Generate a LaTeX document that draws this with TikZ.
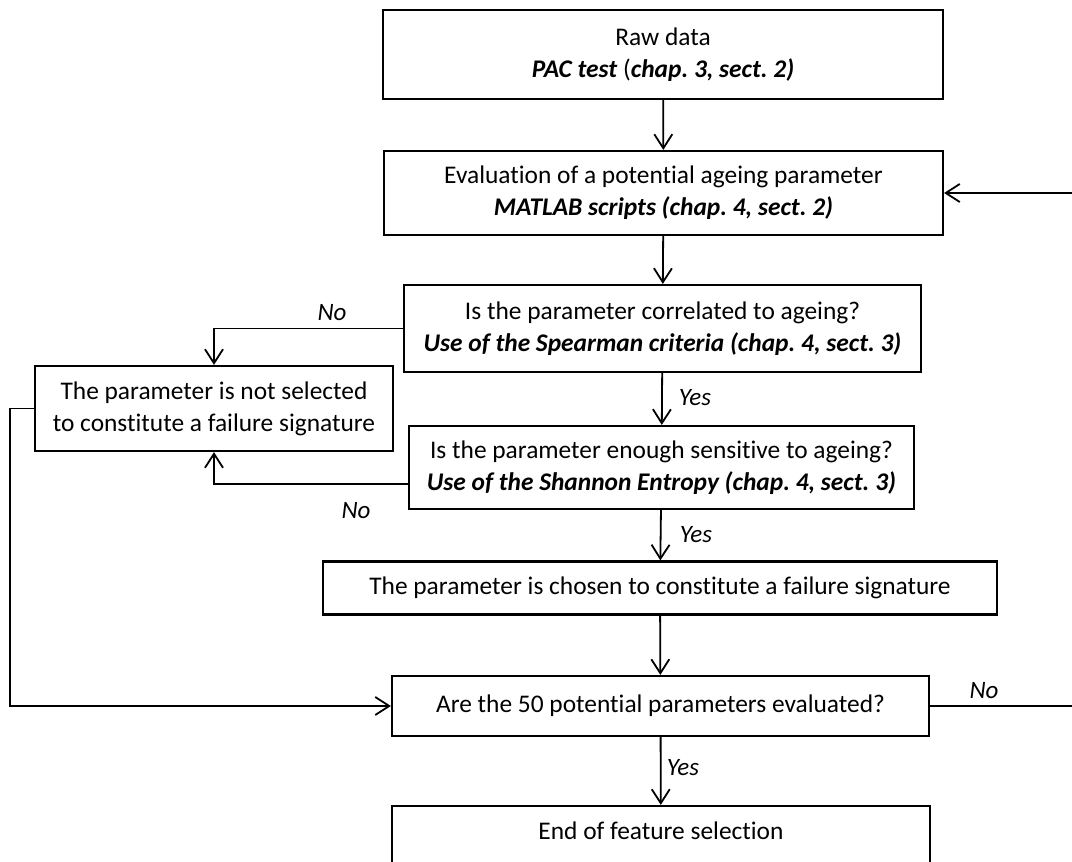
\documentclass[tikz,border=0pt]{standalone}
\usepackage{fontspec}
\setmainfont{Carlito}[Ligatures=NoCommon]
\usetikzlibrary{arrows.meta}
\newcommand{\bi}[1]{\textbf{\textit{#1}}}
\frenchspacing
\begin{document}
\begin{tikzpicture}[x=0.5pt,y=-0.5pt,
  box/.style={draw, line width=1.1pt, align=center, inner sep=0pt,
    font=\fontsize{12.7}{16}\selectfont},
  conn/.style={line width=0.9pt, -{Straight Barb[length=7pt,width=9pt]}},
  lab/.style={font=\fontsize{12.5}{14}\selectfont\itshape}]
\useasboundingbox (0,0) rectangle (1072,862);
\node[box, minimum width=280pt, minimum height=44.5pt] (b1) at (663,54.5)
  {Raw data\\\bi{PAC test} (\bi{chap. 3, sect. 2)}};
\node[box, minimum width=279.5pt, minimum height=42pt] (b2) at (663.5,193)
  {Evaluation of a potential ageing parameter\\\bi{MATLAB scripts (chap. 4, sect. 2)}};
\node[box, minimum width=258.5pt, minimum height=43.5pt] (b3) at (662.5,328.5)
  {Is the parameter correlated to ageing?\\\bi{Use of the Spearman criteria (chap. 4, sect. 3)}};
\node[box, minimum width=179pt, minimum height=42.5pt] (b4) at (214,408.5)
  {The parameter is not selected\\to constitute a failure signature};
\node[box, minimum width=252.5pt, minimum height=41.5pt] (b5) at (661.5,467.5)
  {Is the parameter enough sensitive to ageing?\\\bi{Use of the Shannon Entropy (chap. 4, sect. 3)}};
\node[box, minimum width=337pt, minimum height=26.5pt] (b6) at (660,588)
  {The parameter is chosen to constitute a failure signature};
\node[box, minimum width=268.5pt, minimum height=30pt] (b7) at (660.5,706)
  {Are the 50 potential parameters evaluated?};
\node[box, minimum width=269pt, minimum height=60pt] (b8) at (661,866)
  {};
\node[font=\fontsize{12.7}{16}\selectfont] (t8) at (661,831) {End of feature selection};
\coordinate (rr) at (1090,706);
\coordinate (ll) at (10,408.5);

\draw[conn] (b1) -- (b2);
\draw[conn] (b2) -- (b3);
\draw[conn] (b3.west) -| (b4.north);
\draw[conn] (b3) -- (b5);
\draw[conn] ([yshift=-8.25pt]b5.west) -| (b4.south);
\draw[conn] (b5) -- (b6);
\draw[conn] (b6) -- (b7);
\draw[conn] (b4.west) -- (ll) |- (b7.west);
\draw[conn] (b7.east) -- (rr) |- (b2.east);
\draw[conn] (b7) -- (b8);

\node[lab] (l1) at (332,313) {No};
\node[lab] (l2) at (695,398) {Yes};
\node[lab] (l3) at (356,511) {No};
\node[lab] (l4) at (696,535) {Yes};
\node[lab] (l5) at (984,691) {No};
\node[lab] (l6) at (683,768) {Yes};
\end{tikzpicture}
\end{document}
